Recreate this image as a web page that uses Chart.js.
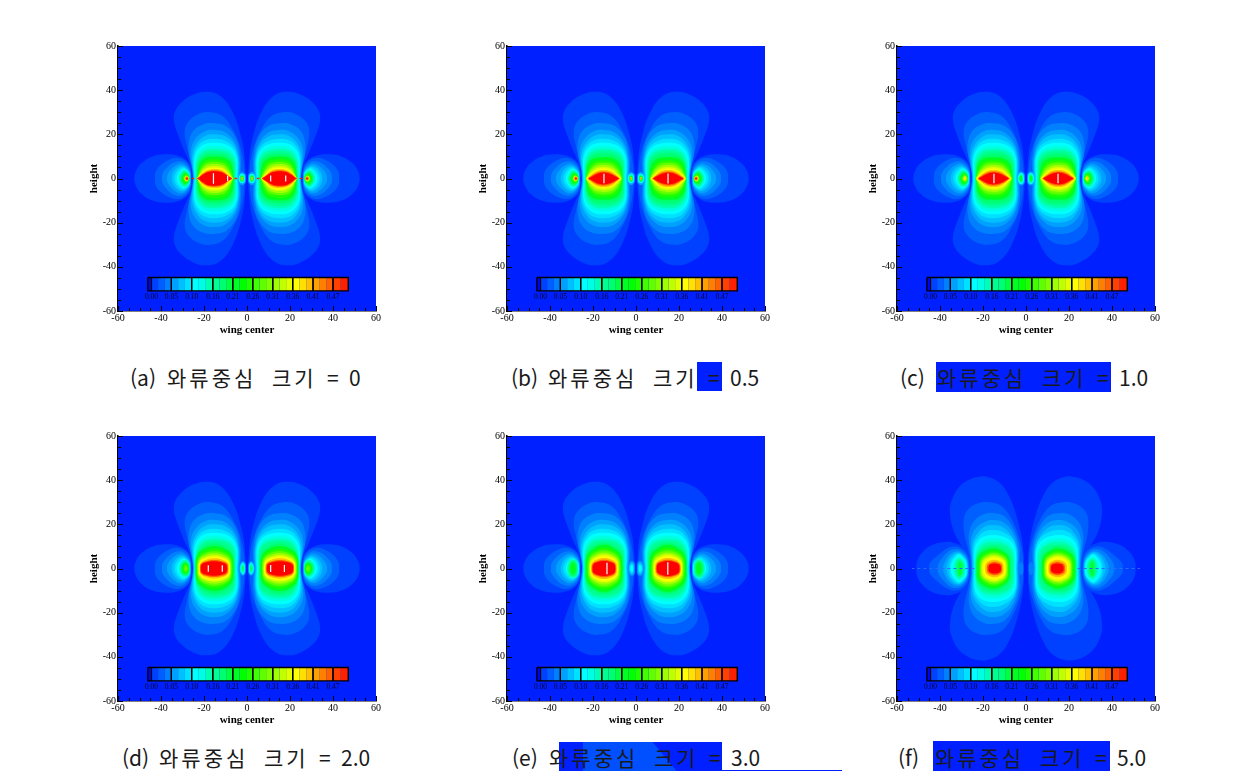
<!DOCTYPE html>
<html lang="ko"><head><meta charset="utf-8">
<script src="https://cdn.jsdelivr.net/npm/chart.js@4"></script>
<style>
html,body{margin:0;padding:0;background:#fff;width:1236px;height:771px;overflow:hidden}
canvas{position:absolute;display:block}
.patch{position:absolute}
.tok{position:absolute;font-family:"Noto Sans CJK KR","Noto Sans",sans-serif;font-weight:400;font-size:21px;line-height:30px;color:#1a1a1a;white-space:pre}
.kr{letter-spacing:3px}
</style></head><body>
<script>
// band colours, index = contour level k
const levelColors=['#0020ff','#0040ff','#0060ff','#0080ff','#00a0ff','#00c0ff','#00e0ff','#00ffff','#00ffe0','#00ffb0','#00ff90','#00ff70','#00ff40','#00ff20','#00ff00','#20ff00','#40ff00','#60ff00','#80ff00','#a0ff00','#c0ff00','#e0ff00','#ffff00','#ffe000','#ffc000','#ffa000','#ff8000','#ff6000','#ff4000','#ff2000','#ff0000'];
const barLabels=['0.00','0.05','0.10','0.16','0.21','0.26','0.31','0.36','0.41','0.47'];
const barTicks=[-44.4,-35.2,-25.7,-15.9,-6.6,2.7,12,21.3,30.7,40];
const barRange=[-46.1,47.1,-44.8,-50.9];
const axisTicks=[-60,-40,-20,0,20,40,60];
const minorTicks=[-55,-50,-45,-35,-30,-25,-15,-10,-5,5,10,15,25,30,35,45,50,55];
const captionLabels=['(a)','(b)','(c)','(d)','(e)','(f)'];
const captionValues=['0','0.5','1.0','2.0','3.0','5.0'];

// contours of the right-hand upper quarter: [level, x0,y0, x1,y1, ...]
const mainOuter=[
[1,.6,0,.8,6,2.2,16.6,6.8,30.3,13,37.8,19.4,39.3,25,38,30.1,34.8,33.5,30.3,33.9,25.7,32.1,19.8,29,12.2,26.2,6,25.4,3,25,0],
[2,1.2,0,1.4,6,3,14,6.5,22,11,28,17,30,23,29,27.5,25.5,29,21,28,15,26.5,9,25.4,4,25,0],
[3,3.4,0,2.8,5,3.1,11,5,18,9.5,23.5,15,25,20.5,24.5,25,21.5,27,16.5,27,11,25.9,6,25.2,0],
[4,3.8,0,3.3,5,3.6,10,5.4,16,10,20.8,15,22,20,21.2,24,18,26,13.5,26,8,25.2,4,25,0],
[5,4.1,0,3.7,5,4,10,6,15.5,10,19,15,20,19.5,19.3,23,16.5,25.2,12,25.5,7,25,3,24.8,0],
[6,4.4,0,4.1,5,4.4,10,6.4,14.5,10,17,15,18,19.5,17.3,22.7,15,24.7,11,25,6,24.7,3,24.6,0],
[7,4.7,0,4.5,5,4.8,9.5,6.8,13.5,10.5,15.6,15,16.2,19.5,15.6,22.5,13.5,24.3,10,24.6,5,24.4,2,24.3,0],
[8,5,0,4.9,4,5.2,9,7.2,12.5,10.5,14.3,15,14.8,19.5,14.3,22,12.3,23.8,9,24.2,4,24.1,0],
[9,5.3,0,5.3,4,5.7,8.5,7.7,11.6,11,13,15,13.5,19,13,21.7,11.3,23.4,8,23.8,4,23.8,0],
[10,5.6,0,5.6,4,6.1,8,8.2,10.8,11.5,12,15,12.3,18.7,12,21.3,10.4,23,7.5,23.5,3.5,23.5,0]];
const sideOuter=[
[1,25.8,0,26,5,28,8,32,10.3,38,11,44,10,49,7,51.6,3.5,52.4,0],
[2,25.9,0,26.2,4,28,7.5,32,9.3,36.5,8.4,40.5,5.8,42.6,2.7,42.8,0],
[3,26.1,0,26.4,3.6,28,6.3,31,7.8,34.5,7,37.5,4.6,39.3,2.2,39.5,0],
[4,26.2,0,26.5,3.2,28,5.4,30.5,6.7,33,6,35.7,3.6,37,1.6,37.2,0],
[5,26.3,0,26.6,2.8,28,4.7,30,5.8,32.3,5,34.3,2.8,35,0],
[6,26.4,0,26.7,2.6,28,4.2,29.8,5.1,31.7,4.2,33.3,2.2,33.8,0],
[7,26.5,0,26.8,2.3,28,3.7,29.5,4.5,31,3.5,32.3,1.8,32.7,0]];
const coreA=[
[11,5.9,0,6,3.5,6.6,7.5,8.7,10,11.5,11,15,11.2,18.5,11,21,9.6,22.7,7,23.3,3,23.3,0],
[13,6.2,0,6.4,3,7.2,6.5,9.2,8.9,12,9.8,15,10,18.2,9.8,20.7,8.6,22.3,6.2,22.9,3,23.1,0],
[15,6.4,0,6.9,2.6,8,5.7,10,7.8,12.5,8.5,15,8.7,18,8.5,20.3,7.4,21.8,5.3,22.6,2.6,22.9,0],
[17,6.5,0,7.4,2.4,8.8,5,10.6,6.8,12.8,7.4,15,7.6,17.6,7.4,19.9,6.4,21.4,4.5,22.3,2.3,22.9,0],
[19,6.5,0,7.8,2.2,9.3,4.4,11,5.8,13,6.4,15,6.6,17.4,6.4,19.6,5.4,21.1,3.9,22.1,2,23,0],
[21,6.6,0,8.2,2,9.8,3.8,11.4,4.9,13,5.4,15,5.6,17.2,5.4,19.3,4.6,20.9,3.3,22,1.7,23.2,0],
[22,6.7,0,8.5,1.8,10.2,3.4,11.6,4.3,13,4.7,15,4.9,17.2,4.7,19.2,4,20.8,2.9,22,1.5,23.2,0],
[24,6.8,0,8.7,1.6,10.3,3,11.8,3.8,13.2,4.2,15,4.3,17.2,4.1,19.1,3.5,20.7,2.5,21.9,1.3,23,0],
[27,6.9,0,8.9,1.4,10.5,2.6,12,3.3,13.5,3.6,15,3.7,17,3.6,19,3,20.6,2.1,21.8,1.1,22.8,0],
[30,7,0,9.1,1.3,10.7,2.3,12.2,2.9,13.6,3.2,15,3.3,17,3.2,18.9,2.7,20.4,1.8,21.5,1,22.4,0]];
const coreBC=[
[11,5.9,0,6,3.5,6.6,7.5,8.7,10,11.5,11,15,11.2,18.5,11,21,9.6,22.7,7,23.3,3,23.3,0],
[13,6.2,0,6.5,3.2,7.4,6.7,10,9,15,9.6,20,9,22.4,6.5,23,3.2,23.2,0],
[15,6.4,0,7,2.8,8.3,5.8,10.8,7.7,15,8.3,19.2,7.7,21.6,5.6,22.6,2.8,23,0],
[17,6.5,0,7.4,2.5,9,5,11.2,6.7,15,7.2,18.8,6.7,21,4.8,22.4,2.4,23,0],
[19,6.6,0,7.9,2.2,9.5,4.3,11.7,5.7,15,6.2,18.4,5.7,20.6,4.2,22.1,2.1,23.1,0],
[21,6.8,0,8.3,1.9,10,3.6,12.1,4.8,15,5.2,18,4.8,20.2,3.5,21.8,1.8,23.1,0],
[22,7,0,8.7,1.7,10.3,3.1,12.4,4.1,15,4.5,17.8,4.1,19.9,3,21.5,1.5,23,0],
[24,7.3,0,9,1.4,10.6,2.7,12.6,3.6,15,3.9,17.5,3.6,19.5,2.6,21.2,1.3,22.6,0],
[27,7.6,0,9.3,1.2,10.9,2.2,12.8,2.9,15,3.2,17.3,2.9,19.2,2.1,20.8,1.1,22.2,0],
[30,7.9,0,9.5,.9,11.2,1.8,13,2.4,15,2.7,17.2,2.4,19,1.7,20.6,.8,21.9,0]];
const coreD=[
[11,6,0,6.6,6.3,9.6,9.7,15,11.4,20.4,9.7,23.4,6.3,24,0],
[13,6.2,0,6.8,5.6,9.8,8.7,15.1,10.2,20.4,8.7,23.4,5.6,24,0],
[15,6.6,0,7.2,5,10,7.7,15.1,9,20.2,7.7,23,5,23.6,0],
[17,7,0,7.6,4.3,10.2,6.7,15.1,7.9,20,6.7,22.6,4.3,23.2,0],
[19,7.4,0,8,3.8,10.6,5.9,15.2,6.9,19.8,5.9,22.3,3.8,22.9,0],
[21,7.8,0,8.3,3.3,10.9,5.1,15.2,6,19.5,5.1,22.1,3.3,22.6,0],
[22,8,0,8.5,2.9,11,4.5,15.2,5.3,19.4,4.5,21.9,2.9,22.4,0],
[24,8.4,0,8.9,2.5,11.2,3.9,15.3,4.6,19.2,3.9,21.5,2.5,22,0],
[27,8.8,0,9.2,2.1,11.5,3.3,15.3,3.9,19.1,3.3,21.4,2.1,21.8,0],
[30,9.2,0,9.6,1.8,11.8,2.8,15.3,3.3,18.9,2.8,21.1,1.8,21.5,0]];
const coreE=[
[11,5.8,0,6.4,6.4,9.7,9.9,14.8,11.6,19.9,9.9,23.2,6.4,23.8,0],
[13,6.2,0,6.9,5.9,10,9.1,14.8,10.7,19.6,9.1,22.7,5.9,23.4,0],
[15,6.7,0,7.4,5.2,10.3,8,14.8,9.4,19.3,8,22.2,5.2,22.9,0],
[17,7.2,0,7.9,4.6,10.5,7.1,14.8,8.3,19.1,7.1,21.7,4.6,22.4,0],
[19,7.7,0,8.3,4,10.9,6.2,14.8,7.3,18.8,6.2,21.3,4,21.9,0],
[21,8.1,0,8.6,3.5,11.1,5.4,14.8,6.3,18.5,5.4,21,3.5,21.5,0],
[22,8.5,0,9,3,11.3,4.7,14.8,5.5,18.3,4.7,20.6,3,21.1,0],
[24,8.8,0,9.3,2.6,11.5,4.1,14.8,4.8,18.2,4.1,20.4,2.6,20.9,0],
[27,9.2,0,9.7,2.2,11.7,3.4,14.8,4,17.9,3.4,20.1,2.2,20.6,0],
[30,9.6,0,10,1.9,12,2.9,14.8,3.4,17.8,2.9,19.8,1.9,20.2,0]];
const mainF=[
[1,.9,0,1,6,2.2,15,5,25.7,8,33,12,38.6,17,41.2,22,41.6,27,40,31.5,36.5,34.5,31,35.4,26,34,18,30.5,11,27.2,6.5,26.2,3,26,0],
[2,1.4,0,1.6,7,3.2,14,6.5,22,11,28,17,30,23,29.3,27.5,26,29,21.5,28.5,15,27,9,26,4,25.8,0],
[3,3.4,0,3,5,3.3,11,5.8,18,10,23.5,15,25,20,24.4,24.5,21,26.5,16,26.5,11,25.8,6,25.4,0],
[4,3.8,0,3.5,5,3.9,10,6.2,16.5,10.5,20.8,15,22,19.5,21,23.5,18,25.5,13.5,25.6,8,25.2,4,25.1,0],
[5,4.1,0,3.9,5,4.4,10,6.8,15,10.5,18.6,15,19.7,19,19,22.5,16,24.7,12,25,7,24.9,3,24.8,0],
[6,4.4,0,4.2,5,4.6,9.5,6.3,13.5,10.5,16.4,15,17.4,19.5,16.6,22.5,14,24.2,11,24.6,6,24.5,3,24.4,0],
[7,4.7,0,4.6,5,5,9,7,12.4,10.5,14.4,15,15.2,19.5,14.5,22.3,12.5,23.8,9.5,24.1,5,24,2,24,0],
[8,5.1,0,5,4,5.5,8,7.3,11.2,10.5,13,15,13.7,19.5,13,21.8,11,23.4,8,23.7,4,23.7,0],
[9,5.5,0,5.5,4,6,7.5,8,10,11.2,11.7,15,12.2,18.7,11.7,21.2,10,23,7,23.3,3.5,23.3,0],
[10,6.1,0,6.2,3.5,6.9,7,8.7,9.6,11.7,10.6,15,10.9,18.3,10.6,20.9,9.2,22.6,6.5,23.1,3,23.1,0],
[11,6.8,0,7.5,5.7,10.5,8.8,15,10.3,19.8,8.8,22.8,5.7,23.5,0],
[13,7.4,0,8,5.1,10.8,7.8,15,9.2,19.5,7.8,22.3,5.1,22.9,0],
[15,7.9,0,8.5,4.5,11,7,15,8.2,19.1,7,21.6,4.5,22.2,0],
[17,8.3,0,8.8,4,11.2,6.2,14.9,7.3,18.6,6.2,21,4,21.5,0],
[19,8.8,0,9.3,3.5,11.5,5.4,14.9,6.4,18.3,5.4,20.5,3.5,21,0],
[21,9.1,0,9.6,3.2,11.6,4.9,14.9,5.8,18.1,4.9,20.1,3.2,20.6,0],
[22,9.7,0,10.1,2.7,11.9,4.2,14.8,4.9,17.6,4.2,19.4,2.7,19.8,0],
[24,10.4,0,10.7,2.2,12.3,3.4,14.7,4,17.1,3.4,18.7,2.2,19,0],
[27,11,0,11.3,1.7,12.6,2.6,14.6,3.1,16.6,2.6,17.9,1.7,18.2,0],
[30,11.6,0,11.8,1.3,12.9,2,14.5,2.3,16.2,2,17.3,1.3,17.5,0]];
const sideAB=[
[9,26.6,0,26.9,2,28,3.2,29.2,3.8,30.6,2.8,31.4,1.4,31.7,0],
[11,26.7,0,27,1.7,28,2.7,29,3.2,30.1,2.3,30.8,1.2,31,0],
[13,26.8,0,27.1,1.4,28,2.2,28.9,2.6,29.7,1.8,30.2,.9,30.4,0],
[15,26.9,0,27.2,1.1,28,1.8,28.8,2,29.4,1.2,29.8,0],
[21,27,0,27.4,.8,28,1.4,28.7,1,29.2,0],
[25,27.1,0,27.5,.6,28,1,28.5,.6,28.9,0],
[29,27.3,0,27.6,.4,28,.6,28.4,.3,28.5,0]];
const sideC=[
[9,26.7,0,27,2,28.2,3.4,29.4,3.8,30.8,2.8,31.6,1.4,31.9,0],
[11,26.9,0,27.2,1.7,28.2,2.8,29.2,3.2,30.3,2.3,31,1.2,31.2,0],
[13,27,0,27.3,1.4,28.2,2.3,29.1,2.6,29.9,1.8,30.4,.9,30.6,0],
[16,27.2,0,27.5,1,28.2,1.7,29,1.8,29.6,1,29.9,0],
[20,27.5,0,27.8,.7,28.3,1.2,28.9,.8,29.3,0],
[23,27.8,0,28,.4,28.3,.7,28.7,.4,28.9,0]];
const sideD=[
[9,26.5,0,26.8,2.2,27.8,3.6,29.3,3.8,30.8,2.4,31.3,1.2,31.5,0],
[11,26.7,0,27,1.9,27.9,3,29.2,3.1,30.4,2,30.8,1,30.9,0],
[13,26.9,0,27.2,1.5,28,2.4,29.1,2.5,29.9,1.6,30.2,.8,30.3,0],
[15,27.2,0,27.4,1.1,28.1,1.8,29,1.9,29.6,1,29.8,0],
[17,27.5,0,27.7,.7,28.2,1.2,28.8,1.3,29.1,.5,29.2,0]];
const sideE=[
[9,27,0,27.2,2.5,28.2,4,30,4.2,31.4,2.6,32,0],
[11,27.4,0,27.6,2.1,28.5,3.3,29.9,3.5,31,2,31.4,0],
[13,28,0,28.1,1.4,28.8,2.4,29.7,2.6,30.4,1.3,30.6,0]];
const sideF=[
[1,26,0,26.4,5,28.5,9,33,11.5,38,12,44,10.5,48.5,7,50.6,3.5,51,0],
[2,26.2,0,26.6,4.5,28.5,8,32.5,10,36.5,9.2,41,6,44.6,2.5,45,0],
[3,26.5,0,27,4,28.7,7,32,8.8,35.5,8,38.8,5,40.8,2,41,0],
[4,26.8,0,27.2,3.6,28.8,6.3,31.7,7.8,34.8,6.8,37.2,4,38.6,0],
[5,27,0,27.4,3.2,29,5.8,31.5,7.2,34,6.2,36,3.6,37,0],
[6,27.2,0,27.6,3,29.2,5.4,31.3,6.8,33.4,5.6,35.2,3,35.7,0],
[7,27.5,0,27.8,3,29.4,5,31.2,6.3,33,5,34.6,2.5,35,0],
[8,27.9,0,28.2,2.6,29.6,4.4,31,5.2,32.6,4.2,33.7,2,34,0],
[10,28.6,0,28.9,2.4,30,4,31,4.5,32.2,3.4,32.9,1.8,33,0],
[12,29.6,0,29.8,2,30.4,3.2,31,3.5,31.5,2.5,31.8,1.2,31.9,0]];
const innerAB=[
[4,.5,0,.8,2,2.3,3,3.7,2,4.4,0],
[7,.9,0,1.2,1.6,2.3,2.2,3.4,1.6,3.9,0],
[10,1.3,0,1.5,1.2,2.3,1.7,3,1.2,3.4,0],
[14,1.6,0,1.8,.8,2.3,1.2,2.9,.8,3.1,0],
[19,1.8,0,1.95,.6,2.3,.8,2.7,.6,2.9,0],
[26,2,0,2.1,.3,2.3,.5,2.5,.3,2.7,0]];
const innerC=[
[4,.5,0,.8,2.3,2.3,3.2,3.7,2.3,4.3,0],
[7,.9,0,1.2,1.8,2.3,2.6,3.4,1.8,3.9,0],
[10,1.3,0,1.6,1.4,2.3,2,3,1.4,3.4,0],
[13,1.7,0,1.9,.9,2.3,1.3,2.8,.9,3,0]];
const innerD=[
[3,.5,0,.7,2.4,1.9,3.4,3.2,2.4,3.8,0],
[6,.8,0,1,1.9,1.9,2.9,2.9,1.9,3.4,0],
[8,1,0,1.2,1.5,1.9,2.3,2.7,1.5,3,0],
[11,1.3,0,1.5,1,1.9,1.5,2.4,1,2.6,0]];
const innerE=[
[3,.4,0,.6,2.6,1.9,3.6,3.3,2.6,3.9,0],
[5,.8,0,1,2,1.9,2.9,2.9,2,3.4,0],
[7,1.2,0,1.4,1.2,1.9,1.8,2.5,1.2,2.8,0]];
const innerF=[[3,1.2,0,1.4,2,2.3,3,3.2,2,3.6,0]];
// short white marks inside the red cores: [x, half height]
const whiteA=[[-15.6,2.4],[-9,1.3],[11,1.4],[18,1.4]];
const whiteB=[[-14.9,2.2],[14.9,2.3]];
const whiteC=[[-14.9,2.2],[14.9,2.2]];
const whiteD=[[-18,1.5],[-11.5,1.5],[11,1.6],[17.4,1.6]];
const whiteE=[[-13.5,2.6],[14.8,2.8]];
const whiteF=[];
const axisDots=[[4.6,0],[8,0]];
const axisDots2=[[22,0],[27,0]];
const faintAxisF=[[24,0],[53,0]];

const panelMain=[[...mainOuter,...coreA],[...mainOuter,...coreBC],[...mainOuter,...coreBC],[...mainOuter,...coreD],[...mainOuter,...coreE],mainF];
const panelSide=[[...sideOuter,...sideAB],[...sideOuter,...sideAB],[...sideOuter,...sideC],[...sideOuter,...sideD],[...sideOuter,...sideE],sideF];
const panelInner=[innerAB,innerAB,innerC,innerD,innerE,innerF];
const panelWhite=[whiteA,whiteB,whiteC,whiteD,whiteE,whiteF];
const plotLeft=[118,507,897,118,507,897];
const plotTop=[46,46,46,436,436,436];
const captionX=[130,511,900,122,512,898];
const captionY=[362,362,362,742,742,742];
const tokenOffset=[0,37,142,197,219];
const patches=[
 {r:[697,362,25,29],c:'#0020ff'},{r:[936,362,175,30],c:'#0020ff'},{r:[559,742,163,29],c:'#0020ff'},
 {r:[583,742,114,29],c:'#0050ff',clip:'polygon(0 0,61% 0,82% 100%,0 100%)'},
 {r:[933,741,177,30],c:'#0020ff'},{r:[722,770,120,1],c:'#0020ff'}];

const furniture={id:'furniture',
 beforeDatasetsDraw(c){const a=c.chartArea,g=c.ctx;g.save();g.fillStyle=levelColors[0];g.fillRect(a.left,a.top,a.width,a.height);g.restore();},
 afterDatasetsDraw(c){const g=c.ctx,x=c.scales.x,y=c.scales.y,a=c.chartArea;g.save();g.strokeStyle='#000';g.lineWidth=1;
  const tk=(v,l,h)=>{g.beginPath();if(h){const p=Math.round(x.getPixelForValue(v))+.5;g.moveTo(p,a.bottom);g.lineTo(p,a.bottom-l);}else{const p=Math.round(y.getPixelForValue(v))+.5;g.moveTo(a.left,p);g.lineTo(a.left+l,p);}g.stroke();};
  axisTicks.forEach(v=>{tk(v,5,true);tk(v,5,false);});minorTicks.forEach(v=>{tk(v,3,true);tk(v,3,false);});
  g.fillStyle='#08082a';g.font='7.5px "Liberation Serif"';g.textAlign='center';g.textBaseline='middle';
  barLabels.forEach((t,i)=>g.fillText(t,x.getPixelForValue(barTicks[i]),y.getPixelForValue(barRange[3])+6));
  g.restore();}};

function closed(flat){const u=[];for(let i=1;i<flat.length;i+=2)u.push({x:flat[i],y:flat[i+1]});const l=u.slice(0,-1).reverse().map(p=>({x:p.x,y:-p.y}));return [...u,...l];}
function area(k,pts,order,tension){return {type:'scatter',showLine:true,data:pts,fill:'shape',backgroundColor:levelColors[k],borderWidth:0,borderColor:'transparent',pointRadius:0,tension:tension,order:order};}
function stroke(pts,color,w,dash,order){return {type:'scatter',showLine:true,data:pts,fill:false,borderColor:color,borderWidth:w,borderDash:dash||[],pointRadius:0,tension:0,order:order};}
const mirror=p=>p.map(q=>({x:-q.x,y:q.y}));

function buildDatasets(i){const ds=[];
 [...panelMain[i],...panelSide[i],...panelInner[i]].forEach(c=>{const p=closed(c);
  ds.push(area(c[0],p,100-c[0],.4));ds.push(area(c[0],mirror(p),100-c[0],.4));});
 if(i===0){[axisDots,axisDots2].forEach(s=>{const pts=s.map(p=>({x:p[0],y:p[1]}));
  ds.push(stroke(pts,'#ff2000',1.6,[2.5,3],50));ds.push(stroke(mirror(pts),'#ff2000',1.6,[2.5,3],50));});}
 if(i===5){const pts=faintAxisF.map(p=>({x:p[0],y:p[1]}));
  ds.push(stroke(pts,'#2a68ff',1,[3,3],50));ds.push(stroke(mirror(pts),'#2a68ff',1,[3,3],50));}
 panelWhite[i].forEach(w=>ds.push(stroke([{x:w[0],y:-w[1]},{x:w[0],y:w[1]}],'#fff',1.2,null,40)));
 // colour bar, bands drawn through the chart's axes
 const [x0,x1,yt,yb]=barRange;const edges=[x0,barTicks[0]];
 for(let m=0;m<barTicks.length-1;m++){const s=(barTicks[m+1]-barTicks[m])/3;edges.push(barTicks[m]+s,barTicks[m]+2*s,barTicks[m+1]);}
 const last=(x1-barTicks[9])/2;edges.push(barTicks[9]+last,x1);
 for(let b=0;b<edges.length-1;b++){const col=b===0?0:Math.min(b,30);
  const r=[{x:edges[b],y:yt},{x:edges[b+1],y:yt},{x:edges[b+1],y:yb},{x:edges[b],y:yb},{x:edges[b],y:yt}];
  const d=area(col,r,-5,0);if(b===0)d.backgroundColor='#0000f0';ds.push(d);}
 barTicks.forEach(v=>ds.push(stroke([{x:v,y:yt},{x:v,y:yb}],'#000',1,null,-8)));
 ds.push(stroke([{x:x0,y:yt},{x:x1,y:yt},{x:x1,y:yb},{x:x0,y:yb},{x:x0,y:yt}],'#000',1.4,null,-9));
 return ds;}

const tickFont={family:'"Liberation Serif"',size:10};
const titleFont={family:'"Liberation Serif"',size:11,weight:'bold'};
plotLeft.forEach((L,i)=>{
 const cv=document.createElement('canvas');cv.width=318;cv.height=312;
 cv.style.left=(L-45)+'px';cv.style.top=(plotTop[i]-12)+'px';cv.style.width='318px';cv.style.height='312px';
 document.body.appendChild(cv);
 new Chart(cv,{type:'scatter',data:{datasets:buildDatasets(i)},plugins:[furniture],options:{
  responsive:false,animation:false,devicePixelRatio:1,events:[],
  layout:{padding:{top:12,right:15,left:0,bottom:0}},
  plugins:{legend:{display:false},tooltip:{enabled:false}},
  scales:{
   x:{type:'linear',min:-60,max:60,afterFit(s){s.height=35;},afterBuildTicks(s){s.ticks=axisTicks.map(v=>({value:v}));},
    grid:{display:false,drawTicks:false},border:{display:true,color:'#000',width:1.5},
    ticks:{font:tickFont,color:'#000',padding:1,maxRotation:0,autoSkip:false},
    title:{display:true,text:'wing center',font:titleFont,color:'#000',padding:{top:0,bottom:9}}},
   y:{type:'linear',min:-60,max:60,afterFit(s){s.width=45;},afterBuildTicks(s){s.ticks=axisTicks.map(v=>({value:v}));},
    grid:{display:false,drawTicks:false},border:{display:true,color:'#000',width:1.5},
    ticks:{font:tickFont,color:'#000',padding:2,autoSkip:false},
    title:{display:true,text:'height',font:titleFont,color:'#000',padding:{top:15,bottom:0}}}
  }}});
});
patches.forEach(p=>{const d=document.createElement('div');d.className='patch';d.style.cssText=`left:${p.r[0]}px;top:${p.r[1]}px;width:${p.r[2]}px;height:${p.r[3]}px;background:${p.c};`+(p.clip?`clip-path:${p.clip};`:'');document.body.appendChild(d);});
captionLabels.forEach((t,i)=>{[t,'와류중심','크기','=',captionValues[i]].forEach((w,j)=>{const s=document.createElement('span');s.className='tok'+(j===1||j===2?' kr':'');s.textContent=w;s.style.left=(captionX[i]+tokenOffset[j])+'px';s.style.top=captionY[i]+'px';document.body.appendChild(s);});});
</script>
</body></html>
